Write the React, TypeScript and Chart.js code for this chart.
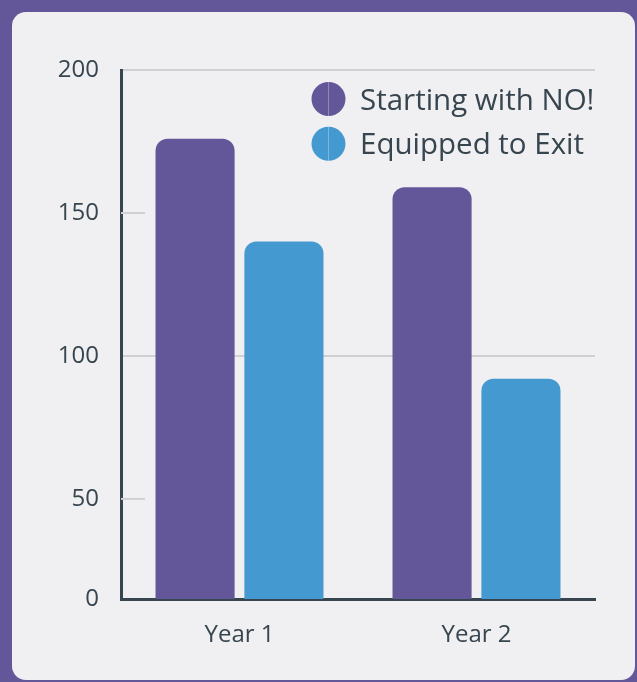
import React, { useEffect, useRef } from "react";
import { Chart, registerables } from "chart.js";

Chart.register(...registerables);

const categories = ["Year 1", "Year 2"];
const seriesNames = ["Starting with NO!", "Equipped to Exit"];
const startingWithNo = [176, 159];
const equippedToExit = [140, 92];
const yTickValues = [15, 50, 100, 150, 200];
const yTickLabels = ["0", "50", "100", "150", "200"];
const fullGridValues = [100, 200];
const shortGridValues = [50, 150];

const PURPLE = "#63579a";
const BLUE = "#4499d0";
const TEXT = "#37454f";
const GRID = "#cfcfd4";
const FONT = "'Open Sans', 'Noto Sans', sans-serif";

const shortGridPlugin = {
  id: "shortGrid",
  beforeDatasetsDraw(chart: any) {
    const { ctx, chartArea, scales } = chart;
    ctx.save();
    ctx.strokeStyle = GRID;
    ctx.lineWidth = 2;
    shortGridValues.forEach((v) => {
      const y = scales.y.getPixelForValue(v);
      ctx.beginPath();
      ctx.moveTo(chartArea.left, y);
      ctx.lineTo(chartArea.left + 24, y);
      ctx.stroke();
    });
    ctx.restore();
  },
};

const insideLegendPlugin = {
  id: "insideLegend",
  afterDraw(chart: any) {
    const { ctx, chartArea } = chart;
    ctx.save();
    chart.data.datasets.forEach((ds: any, i: number) => {
      const cx = chartArea.right - 266.5;
      const cy = chartArea.top + 29 + i * 44.7;
      ctx.beginPath();
      ctx.arc(cx, cy, 17, 0, Math.PI * 2);
      ctx.fillStyle = ds.backgroundColor;
      ctx.fill();
      ctx.beginPath();
      ctx.moveTo(cx, cy - 17);
      ctx.lineTo(cx, cy + 17);
      ctx.strokeStyle = "rgba(255,255,255,0.3)";
      ctx.lineWidth = 1;
      ctx.stroke();
      ctx.font = `29.5px ${FONT}`;
      ctx.fillStyle = TEXT;
      ctx.textAlign = "left";
      ctx.textBaseline = "alphabetic";
      ctx.fillText(ds.label, chartArea.right - 235, cy + 10.5);
    });
    ctx.restore();
  },
};

export default function App() {
  const canvasRef = useRef<HTMLCanvasElement | null>(null);

  useEffect(() => {
    if (!canvasRef.current) return;
    const chart = new Chart(canvasRef.current, {
      type: "bar",
      data: {
        labels: categories,
        datasets: [
          {
            label: seriesNames[0],
            data: startingWithNo,
            backgroundColor: PURPLE,
            borderRadius: 12,
            borderSkipped: "start",
          },
          {
            label: seriesNames[1],
            data: equippedToExit,
            backgroundColor: BLUE,
            borderRadius: 12,
            borderSkipped: "start",
          },
        ],
      },
      options: {
        responsive: false,
        animation: false,
        layout: { padding: { left: 0, right: 42, top: 70, bottom: 23 } },
        datasets: {
          bar: { categoryPercentage: 0.75, barPercentage: 0.89 },
        },
        plugins: {
          legend: { display: false },
          tooltip: { enabled: false },
        },
        scales: {
          x: {
            z: 1,
            grid: { display: false, drawTicks: false },
            border: { display: true, color: TEXT, width: 3 },
            ticks: {
              padding: 22,
              color: TEXT,
              font: { family: FONT, size: 24 },
            },
            afterFit: (scale: any) => {
              scale.height = 60;
            },
          },
          y: {
            min: 15,
            max: 200,
            grid: {
              drawTicks: false,
              lineWidth: 2,
              color: (c: any) =>
                c.tick && fullGridValues.includes(c.tick.value) ? GRID : "rgba(0,0,0,0)",
            },
            border: { display: true, color: TEXT, width: 3 },
            afterBuildTicks: (axis: any) => {
              axis.ticks = yTickValues.map((v) => ({ value: v }));
            },
            ticks: {
              padding: 22,
              color: TEXT,
              font: { family: FONT, size: 24 },
              callback: (_v: any, index: number) => yTickLabels[index],
            },
            afterFit: (scale: any) => {
              scale.width = 121;
            },
          },
        },
      },
      plugins: [shortGridPlugin, insideLegendPlugin],
    });
    return () => chart.destroy();
  }, []);

  return (
    <div style={{ position: "fixed", inset: 0, background: "#63579a", overflow: "hidden" }}>
      <div
        style={{
          position: "absolute",
          left: 12,
          top: 12,
          width: 623,
          height: 668,
          background: "#f0f0f2",
          borderRadius: 14,
        }}
      />
      <canvas
        ref={canvasRef}
        width={637}
        height={682}
        style={{ position: "absolute", left: 0, top: 0, width: 637, height: 682 }}
      />
    </div>
  );
}
